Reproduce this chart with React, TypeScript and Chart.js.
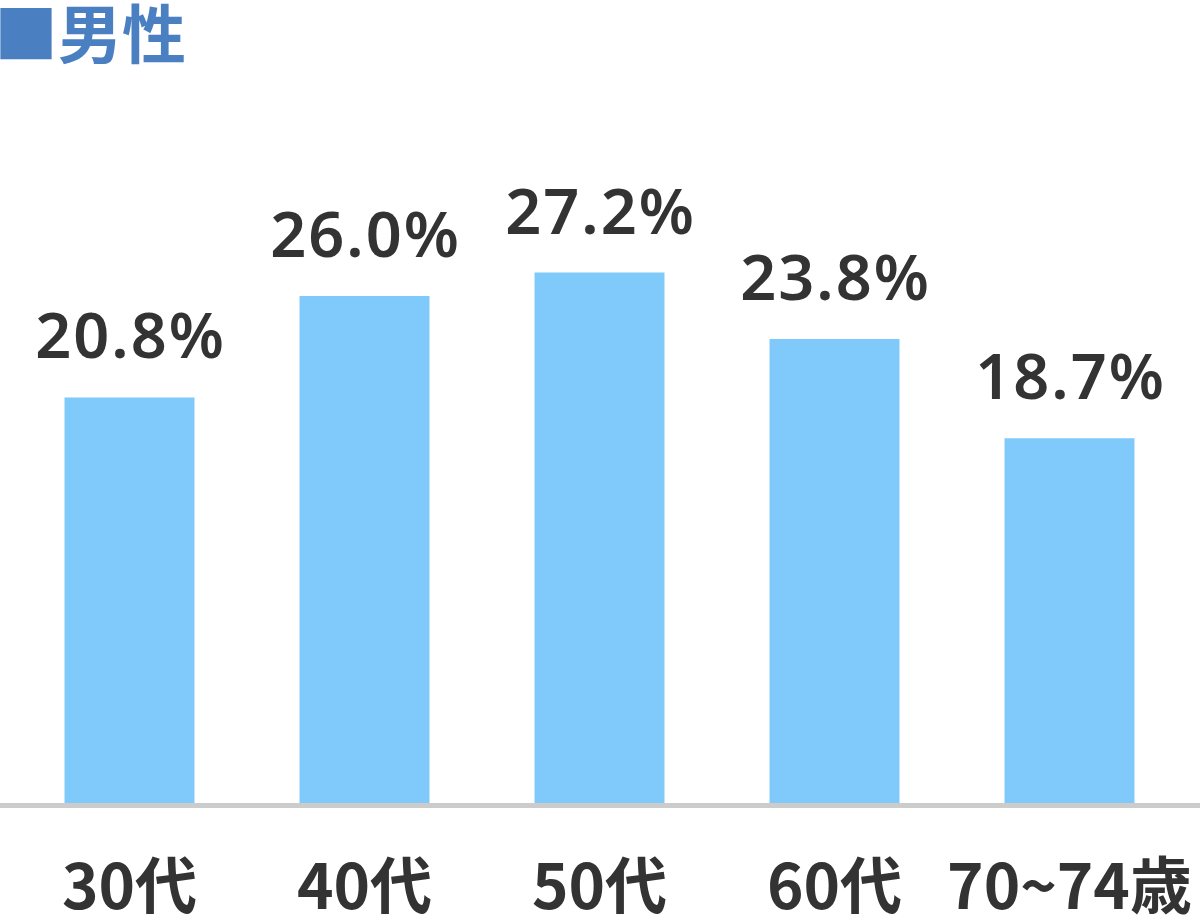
import React, { useEffect, useRef } from "react";
import { Chart, registerables } from "chart.js";

Chart.register(...registerables);

const categories: string[] = ["30代", "40代", "50代", "60代", "70~74歳"];
const values: number[] = [20.8, 26.0, 27.2, 23.8, 18.7];
const valueLabels: string[] = ["20.8%", "26.0%", "27.2%", "23.8%", "18.7%"];
const titleText = "■男性";

const BAR_COLOR = "#7fc9fb";
const TEXT_COLOR = "#333333";
const TITLE_COLOR = "#4a7fc2";
const AXIS_COLOR = "#cccccc";

const decorPlugin = {
  id: "decor",
  afterDatasetsDraw(chart: any) {
    const { ctx } = chart;
    const xScale = chart.scales.x;
    const yScale = chart.scales.y;
    ctx.save();
    ctx.fillStyle = AXIS_COLOR;
    const base = yScale.getPixelForValue(0);
    ctx.fillRect(0, base, chart.width, 5);
    ctx.fillStyle = TEXT_COLOR;
    ctx.font = "600 63px 'Noto Sans', 'Open Sans', sans-serif";
    try {
      (ctx as any).letterSpacing = "2px";
    } catch (e) {}
    ctx.textAlign = "center";
    ctx.textBaseline = "alphabetic";
    values.forEach((v, i) => {
      const x = xScale.getPixelForValue(i);
      const y = yScale.getPixelForValue(v);
      ctx.fillText(valueLabels[i], x + 1, y - 39);
    });
    (ctx as any).letterSpacing = "0px";
    ctx.fillStyle = TITLE_COLOR;
    ctx.font = "bold 64px 'Noto Sans CJK JP', sans-serif";
    ctx.textAlign = "left";
    ctx.textBaseline = "alphabetic";
    ctx.fillText(titleText, -6, 58);
    ctx.restore();
  },
};

export default function App() {
  const ref = useRef<HTMLCanvasElement | null>(null);
  useEffect(() => {
    if (!ref.current) return;
    const chart = new Chart(ref.current, {
      type: "bar",
      data: {
        labels: categories,
        datasets: [
          {
            data: values,
            backgroundColor: BAR_COLOR,
            borderWidth: 0,
            barPercentage: 0.553,
            categoryPercentage: 1,
          },
        ],
      },
      options: {
        animation: false,
        responsive: false,
        maintainAspectRatio: false,
        layout: { padding: { left: 12, right: 13, top: 23, bottom: 0 } },
        plugins: {
          legend: { display: false },
          title: { display: false },
          tooltip: { enabled: false },
        },
        scales: {
          x: {
            grid: { display: false, drawTicks: false },
            border: { display: false },
            afterFit: (scale: any) => {
              scale.height = 117;
              scale.paddingLeft = 0;
              scale.paddingRight = 0;
            },
            ticks: {
              color: TEXT_COLOR,
              padding: 45,
              maxRotation: 0,
              autoSkip: false,
              font: { family: "'Noto Sans CJK JP', sans-serif", size: 62, weight: "bold" },
            },
          },
          y: {
            display: false,
            min: 0,
            max: 40,
          },
        },
      },
      plugins: [decorPlugin],
    });
    return () => chart.destroy();
  }, []);
  return (
    <div style={{ position: "absolute", left: 0, top: 0, width: 1200, height: 920, background: "#fff" }}>
      <canvas ref={ref} width={1200} height={920} style={{ display: "block" }} />
    </div>
  );
}
